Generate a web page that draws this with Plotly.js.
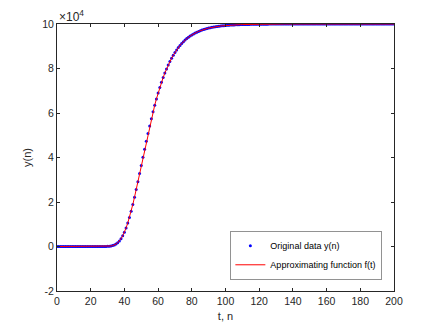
<!DOCTYPE html>
<html>
<head>
<meta charset="utf-8">
<script src="https://cdn.plot.ly/plotly-3.0.1.min.js"></script>
<style>
  html, body { margin: 0; padding: 0; background: #fff; }
  #plotArea { width: 436px; height: 327px; }
</style>
</head>
<body>
<div id="plotArea"></div>
<script>
// y(n) values, n = 0..200
var yData = [
  0, 0, 0, 0, 0, 0, 0, 0, 0, 0,
  0, 0, 0, 0, 0, 0, 0, 0, 0, 0,
  0, 0, 0, 0, 0, 0, 0, 0, 10, 30,
  60, 120, 220, 400, 670, 1080, 1670, 2460, 3500, 4810,
  6420, 8340, 10560, 13080, 15870, 18900, 22160, 25590, 29110, 32760,
  36420, 40100, 43740, 47320, 50810, 54190, 57450, 60560, 63520, 66330,
  68960, 71450, 73770, 75940, 77950, 79830, 81550, 83150, 84620, 85980,
  87220, 88370, 89410, 90370, 91250, 92040, 92770, 93440, 94040, 94590,
  95090, 95550, 95960, 96340, 96680, 97000, 97280, 97530, 97770, 97970,
  98170, 98340, 98500, 98640, 98770, 98890, 99000, 99090, 99170, 99250,
  99320, 99390, 99450, 99500, 99550, 99590, 99630, 99660, 99700, 99720,
  99750, 99770, 99800, 99810, 99830, 99850, 99860, 99880, 99890, 99900,
  99910, 99920, 99920, 99930, 99940, 99940, 99950, 99950, 99960, 99960,
  99960, 99970, 99970, 99970, 99970, 99980, 99980, 99980, 99980, 99980,
  99980, 99990, 99990, 99990, 99990, 99990, 99990, 99990, 99990, 99990,
  99990, 99990, 99990, 99990, 99990, 100000, 100000, 100000, 100000, 100000,
  100000, 100000, 100000, 100000, 100000, 100000, 100000, 100000, 100000, 100000,
  100000, 100000, 100000, 100000, 100000, 100000, 100000, 100000, 100000, 100000,
  100000, 100000, 100000, 100000, 100000, 100000, 100000, 100000, 100000, 100000,
  100000, 100000, 100000, 100000, 100000, 100000, 100000, 100000, 100000, 100000,
  100000
];
var nValues = yData.map(function(v, i){ return i; });

var xTicks = [0, 20, 40, 60, 80, 100, 120, 140, 160, 180, 200];
var yTickVals = [-20000, 0, 20000, 40000, 60000, 80000, 100000];
var yTickText = ["-2", "0", "2", "4", "6", "8", "10"];

var axisColor = "#262626";
var fam = "Liberation Sans, Arial, sans-serif";
var tickFont = {family: fam, size: 10.5, color: axisColor};

var dataTrace = {
  x: nValues,
  y: yData,
  mode: "markers",
  type: "scatter",
  name: "Original data y(n)",
  marker: {color: "#0000ff", size: 3}
};

var fitTrace = {
  x: nValues,
  y: yData,
  mode: "lines",
  type: "scatter",
  name: "Approximating function f(t)",
  line: {color: "#ff0000", width: 1}
};

var layout = {
  width: 436,
  height: 327,
  margin: {l: 57, r: 41.5, t: 24.3, b: 36.3},
  paper_bgcolor: "#fff",
  plot_bgcolor: "#fff",
  font: tickFont,
  showlegend: true,
  xaxis: {
    range: [0, 200],
    tickvals: xTicks,
    ticks: "inside",
    ticklen: 3,
    tickcolor: axisColor,
    showline: true,
    linecolor: axisColor,
    linewidth: 1,
    mirror: "ticks",
    showgrid: false,
    zeroline: false,
    tickfont: tickFont,
    title: {text: "t, n", font: {family: fam, size: 11, color: axisColor}, standoff: 6}
  },
  yaxis: {
    range: [-20000, 100000],
    tickvals: yTickVals,
    ticktext: yTickText,
    ticks: "inside",
    ticklen: 3,
    tickcolor: axisColor,
    showline: true,
    linecolor: axisColor,
    linewidth: 1,
    mirror: "ticks",
    showgrid: false,
    zeroline: false,
    tickfont: tickFont,
    title: {text: "y(n)", font: {family: fam, size: 11, color: axisColor}, standoff: 8}
  },
  legend: {
    x: 0.964,
    y: 0.042,
    xanchor: "right",
    yanchor: "bottom",
    bgcolor: "#fff",
    bordercolor: axisColor,
    borderwidth: 0.5,
    itemwidth: 30,
    font: {family: fam, size: 9, color: "#000"},
    tracegroupgap: 0
  },
  annotations: [{
    xref: "paper",
    yref: "paper",
    x: 0,
    y: 1,
    xanchor: "left",
    yanchor: "bottom",
    yshift: -2,
    showarrow: false,
    text: "×10<sup>4</sup>",
    font: {family: fam, size: 12, color: axisColor}
  }]
};

Plotly.newPlot("plotArea", [dataTrace, fitTrace], layout, {displayModeBar: false, staticPlot: true});
</script>
</body>
</html>
